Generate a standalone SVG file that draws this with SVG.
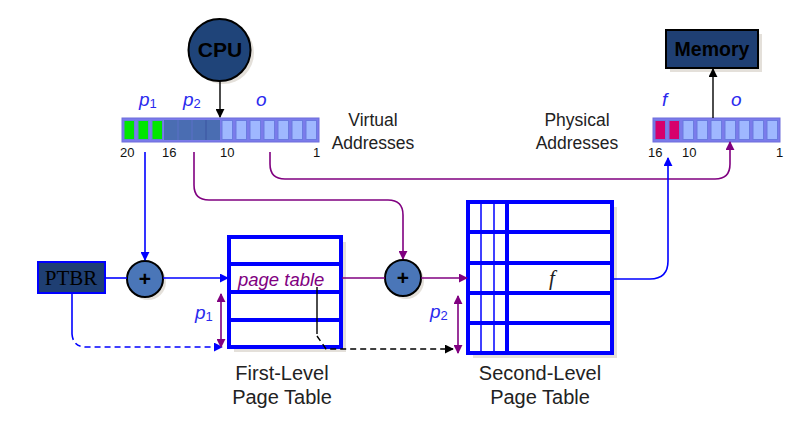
<svg xmlns="http://www.w3.org/2000/svg" width="809" height="432" viewBox="0 0 809 432">
<defs>
<style>
.lbl{font-family:"Liberation Sans",Arial,sans-serif;fill:#222;}
.num{font-family:"Liberation Sans",Arial,sans-serif;font-size:13px;fill:#111;}
.pl{font-family:"Liberation Sans",Arial,sans-serif;font-style:italic;font-size:19px;fill:#2a2aee;}
.sub{font-size:13px;font-style:normal;}
.bl{stroke:#0000ff;stroke-width:1.6;fill:none;}
.pu{stroke:#800080;stroke-width:1.6;fill:none;}
.bk{stroke:#000;stroke-width:1.4;fill:none;}
.dash{stroke-dasharray:6 4;}
.tbl{fill:#fff;stroke:#0000ff;stroke-width:4;}
.row{stroke:#0000ff;stroke-width:4;}
.thin{stroke:#0000ff;stroke-width:1.5;}
.cell{stroke:#6a7be0;stroke-width:1;}
.shadow{fill:#d8d3ca;opacity:0.7;}
.plus{fill:#4a76b8;stroke:#000;stroke-width:2;}
.pt{font-family:"Liberation Sans",Arial,sans-serif;font-weight:bold;font-size:21px;fill:#000;}
</style>
<marker id="ab" viewBox="0 0 10 10" refX="9" refY="5" markerWidth="9" markerHeight="9" markerUnits="userSpaceOnUse" orient="auto-start-reverse"><path d="M0,0 L10,5 L0,10 z" fill="#0000ff"/></marker>
<marker id="ap" viewBox="0 0 10 10" refX="9" refY="5" markerWidth="9" markerHeight="9" markerUnits="userSpaceOnUse" orient="auto-start-reverse"><path d="M0,0 L10,5 L0,10 z" fill="#800080"/></marker>
<marker id="ak" viewBox="0 0 10 10" refX="9" refY="5" markerWidth="9" markerHeight="9" markerUnits="userSpaceOnUse" orient="auto-start-reverse"><path d="M0,0 L10,5 L0,10 z" fill="#000"/></marker>
</defs>
<rect width="809" height="432" fill="#fff"/>

<!-- CPU -->
<g id="cpu">
<ellipse cx="223" cy="53" rx="31" ry="31" class="shadow"/>
<ellipse cx="219.5" cy="50" rx="31" ry="31" fill="#1f4479" stroke="#000" stroke-width="2"/>
<text x="220" y="57" text-anchor="middle" font-family="Liberation Sans,Arial,sans-serif" font-weight="bold" font-size="21" fill="#000">CPU</text>
</g>

<!-- Memory -->
<g id="memory">
<rect x="670" y="34" width="92" height="38" class="shadow"/>
<rect x="666" y="30" width="92" height="38" fill="#1f3f73" stroke="#000" stroke-width="2"/>
<text x="712" y="56" text-anchor="middle" font-family="Liberation Sans,Arial,sans-serif" font-weight="bold" font-size="19.5" fill="#000">Memory</text>
</g>

<!-- Virtual address -->
<g id="virtual-address">
<rect x="122" y="118" width="197" height="24" fill="#7b7bea" stroke="#6f6fdc" stroke-width="1"/>
<rect x="124" y="120.5" width="10.5" height="19" fill="#00e600" class="cell"/>
<rect x="138" y="120.5" width="10.5" height="19" fill="#00e600" class="cell"/>
<rect x="152" y="120.5" width="10.5" height="19" fill="#00e600" class="cell"/>
<rect x="164" y="120" width="56" height="20" fill="#4a6db2"/>
<line x1="178" y1="120" x2="178" y2="140" stroke="#5a70c8" stroke-width="1"/>
<line x1="192" y1="120" x2="192" y2="140" stroke="#5a70c8" stroke-width="1"/>
<line x1="206" y1="120" x2="206" y2="140" stroke="#3a55a0" stroke-width="1"/>
<rect x="222" y="120.5" width="10.5" height="19" fill="#9fb8ff" class="cell"/>
<rect x="236" y="120.5" width="10.5" height="19" fill="#9fb8ff" class="cell"/>
<rect x="250" y="120.5" width="10.5" height="19" fill="#9fb8ff" class="cell"/>
<rect x="264" y="120.5" width="10.5" height="19" fill="#9fb8ff" class="cell"/>
<rect x="278" y="120.5" width="10.5" height="19" fill="#9fb8ff" class="cell"/>
<rect x="292" y="120.5" width="10.5" height="19" fill="#9fb8ff" class="cell"/>
<rect x="306" y="120.5" width="10.5" height="19" fill="#9fb8ff" class="cell"/>
<text x="139" y="106" class="pl">p<tspan class="sub" dy="2">1</tspan></text>
<text x="183" y="106" class="pl">p<tspan class="sub" dy="2">2</tspan></text>
<text x="256" y="106" class="pl">o</text>
<text x="120" y="157" class="num">20</text>
<text x="162" y="157" class="num">16</text>
<text x="220" y="157" class="num">10</text>
<text x="313" y="157" class="num">1</text>
<text x="373" y="126" text-anchor="middle" class="lbl" font-size="17.5">Virtual</text>
<text x="373" y="149" text-anchor="middle" class="lbl" font-size="17.5">Addresses</text>
</g>

<!-- Physical address -->
<g id="physical-address">
<rect x="653" y="118" width="127" height="24" fill="#7b7bea" stroke="#6f6fdc" stroke-width="1"/>
<rect x="655" y="120.5" width="10.5" height="19" fill="#d6006c" class="cell"/>
<rect x="669" y="120.5" width="10.5" height="19" fill="#d6006c" class="cell"/>
<rect x="683" y="120.5" width="10.5" height="19" fill="#9fb8ff" class="cell"/>
<rect x="697" y="120.5" width="10.5" height="19" fill="#9fb8ff" class="cell"/>
<rect x="711" y="120.5" width="10.5" height="19" fill="#9fb8ff" class="cell"/>
<rect x="725" y="120.5" width="10.5" height="19" fill="#9fb8ff" class="cell"/>
<rect x="739" y="120.5" width="10.5" height="19" fill="#9fb8ff" class="cell"/>
<rect x="753" y="120.5" width="10.5" height="19" fill="#9fb8ff" class="cell"/>
<rect x="767" y="120.5" width="10.5" height="19" fill="#9fb8ff" class="cell"/>
<text x="662" y="106" class="pl">f</text>
<text x="731" y="106" class="pl">o</text>
<text x="648" y="157" class="num">16</text>
<text x="682" y="157" class="num">10</text>
<text x="776" y="157" class="num">1</text>
<text x="577" y="126" text-anchor="middle" class="lbl" font-size="17.5">Physical</text>
<text x="577" y="149" text-anchor="middle" class="lbl" font-size="17.5">Addresses</text>
</g>

<!-- PTBR -->
<g id="ptbr">
<rect x="38" y="262" width="67" height="31" fill="#1f3f73" stroke="#0000ff" stroke-width="2"/>
<text x="71" y="285" text-anchor="middle" font-family="Liberation Serif,Times New Roman,serif" font-size="21" fill="#000">PTBR</text>
</g>

<!-- adders -->
<g id="adder1">
<circle cx="148" cy="282" r="18" class="shadow"/>
<circle cx="145" cy="279" r="18" class="plus"/>
<text x="145" y="286" text-anchor="middle" class="pt">+</text>
</g>
<g id="adder2">
<circle cx="406" cy="281" r="18" class="shadow"/>
<circle cx="403" cy="278" r="18" class="plus"/>
<text x="403" y="285" text-anchor="middle" class="pt">+</text>
</g>

<!-- First-level page table -->
<g id="first-level-table">
<rect x="234" y="242" width="112" height="110" class="shadow"/>
<rect x="229" y="237" width="112" height="110" class="tbl"/>
<line x1="229" y1="264" x2="341" y2="264" class="row"/>
<line x1="229" y1="292" x2="341" y2="292" class="row"/>
<line x1="229" y1="320" x2="341" y2="320" class="row"/>
<text x="238" y="286" font-family="Liberation Sans,Arial,sans-serif" font-style="italic" font-size="18.5" fill="#800080">page table</text>
<text x="195" y="319" class="pl" font-size="17">p<tspan class="sub" dy="2" font-size="12">1</tspan></text>
<text x="282" y="380" text-anchor="middle" class="lbl" font-size="20">First-Level</text>
<text x="282" y="404" text-anchor="middle" class="lbl" font-size="20">Page Table</text>
</g>

<!-- Second-level page table -->
<g id="second-level-table">
<rect x="473" y="207" width="144" height="151" class="shadow"/>
<rect x="468" y="202" width="144" height="151" class="tbl"/>
<line x1="468" y1="232" x2="612" y2="232" class="row"/>
<line x1="468" y1="263" x2="612" y2="263" class="row"/>
<line x1="468" y1="293" x2="612" y2="293" class="row"/>
<line x1="468" y1="323" x2="612" y2="323" class="row"/>
<line x1="481" y1="202" x2="481" y2="353" class="thin"/>
<line x1="494" y1="202" x2="494" y2="353" class="thin"/>
<line x1="507" y1="202" x2="507" y2="353" class="row" stroke-width="3"/>
<text x="552" y="285" text-anchor="middle" font-family="Liberation Serif,Times New Roman,serif" font-style="italic" font-size="21" fill="#222">f</text>
<text x="430" y="318" class="pl" font-size="17">p<tspan class="sub" dy="2" font-size="12">2</tspan></text>
<text x="540" y="380" text-anchor="middle" class="lbl" font-size="20">Second-Level</text>
<text x="540" y="404" text-anchor="middle" class="lbl" font-size="20">Page Table</text>
</g>

<!-- connectors -->
<g id="connectors">
<line x1="220" y1="81" x2="220" y2="117" class="bk" marker-end="url(#ak)"/>
<line x1="713" y1="118" x2="713" y2="69" class="bk" marker-end="url(#ak)"/>
<path d="M145,152 V260" class="bl" marker-end="url(#ab)"/>
<path d="M194,152 V185 Q194,200 209,200 H388 Q403,200 403,215 V259" class="pu" marker-end="url(#ap)"/>
<path d="M270,152 V164 Q270,179 285,179 H715 Q730,179 730,164 V142" class="pu" marker-end="url(#ap)"/>
<path d="M105,278 H127" class="bl"/>
<path d="M163,278 H228" class="bl" marker-end="url(#ab)"/>
<path d="M72,293 V334" class="bl"/>
<path d="M72,334 Q73,347 86,347 H222" class="bl dash" marker-end="url(#ab)"/>
<path d="M221,294 V347" class="pu" marker-start="url(#ap)" marker-end="url(#ap)"/>
<path d="M342,278 H385" class="pu"/>
<path d="M421,278 H467" class="pu" marker-end="url(#ap)"/>
<path d="M317,287 V334" class="bk"/>
<path d="M317,336 L326,349 H453" class="bk dash" marker-end="url(#ak)"/>
<path d="M458,296 V353" class="pu" marker-start="url(#ap)" marker-end="url(#ap)"/>
<path d="M614,279 H650 Q668,279 668,261 V158" class="bl" marker-end="url(#ab)"/>
</g>
</svg>
